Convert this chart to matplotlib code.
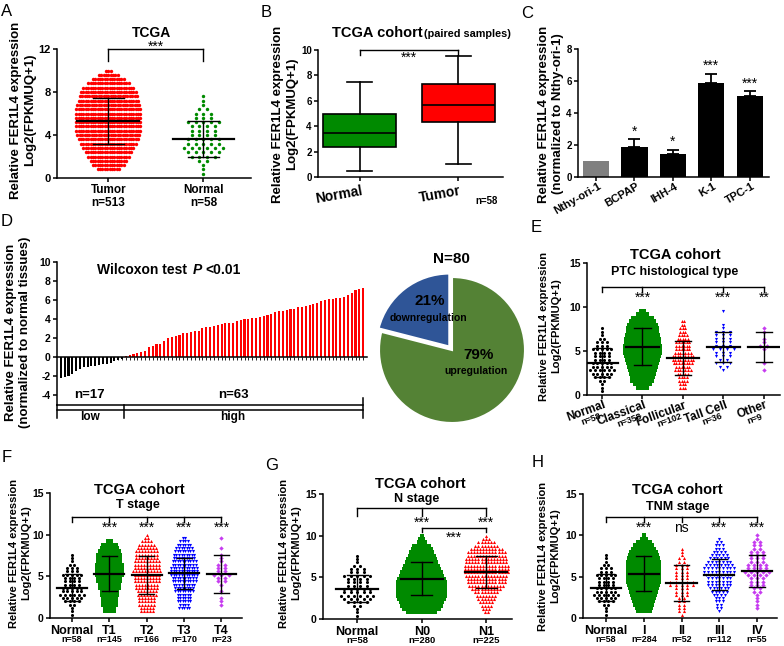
import matplotlib
matplotlib.use('Agg')
import matplotlib.pyplot as plt
import numpy as np

plt.rcParams['font.family'] = ['Liberation Sans', 'DejaVu Sans']
plt.rcParams['font.weight'] = 'bold'
plt.rcParams['axes.unicode_minus'] = False

# ---------------- data ----------------
# dot plots: number of points per row, rows at 0.4, 0.8, ... 10.0
ROW_STEP = 0.4
normal_counts = [1, 1, 1, 2, 4, 5, 6, 5, 5, 4, 4, 4, 5, 3, 3, 2, 1, 1, 1]
a_tumor_counts = [0, 10, 14, 16, 18, 20, 22, 24, 26, 27, 28, 28, 28, 28, 28, 28,
                  27, 26, 25, 24, 22, 18, 14, 9, 3]
classical_counts = [0, 6, 9, 12, 13, 14, 15, 16, 17, 18, 19, 20, 20, 20, 19, 19,
                    18, 17, 17, 16, 14, 11, 6, 3]
follicular_counts = [0, 3, 3, 4, 4, 5, 7, 6, 8, 9, 9, 7, 6, 6, 6, 5, 4, 3, 3, 2, 2]
tallcell_counts = [0, 0, 0, 0, 0, 0, 1, 2, 3, 2, 3, 3, 4, 3, 3, 3, 3, 3, 1, 1, 0, 0, 0, 1]
other_counts = [0, 0, 0, 0, 0, 0, 1, 0, 1, 0, 0, 0, 1, 2, 1, 1, 0, 1, 1]
t1_counts = [0, 4, 4, 5, 5, 5, 6, 6, 7, 7, 8, 8, 9, 9, 9, 9, 8, 8, 8, 7, 6, 5, 2]
t2_counts = [0, 5, 5, 6, 6, 6, 7, 7, 8, 8, 9, 9, 9, 10, 9, 9, 9, 8, 8, 8, 7, 6, 4, 2, 1]
t3_counts = [0, 0, 5, 4, 6, 6, 6, 8, 8, 9, 10, 10, 11, 11, 11, 10, 10, 9, 9, 8, 7, 6, 4, 2]
t4_counts = [0, 0, 0, 1, 1, 1, 0, 1, 0, 1, 2, 2, 3, 2, 2, 2, 1, 1, 1, 0, 1, 0, 0, 1]
n0_counts = [0, 10, 13, 14, 15, 16, 17, 17, 17, 17, 17, 16, 15, 14, 13, 12, 11, 10,
             9, 8, 7, 6, 3, 2, 1]
n1_counts = [0, 2, 3, 4, 5, 6, 7, 8, 10, 12, 13, 13, 14, 15, 15, 15, 14, 14, 13,
             13, 11, 8, 6, 3, 1]
stage1_counts = [0, 7, 8, 9, 10, 11, 12, 13, 14, 15, 16, 16, 16, 16, 16, 16, 16,
                 15, 14, 13, 11, 9, 7, 3, 1]
stage2_counts = [1, 2, 2, 2, 2, 2, 3, 3, 3, 5, 5, 3, 3, 3, 3, 3, 2, 2, 1, 1, 1]
stage3_counts = [0, 1, 2, 2, 3, 3, 4, 5, 6, 7, 7, 7, 8, 9, 9, 8, 7, 6, 5, 4, 3, 3, 2, 1]
stage4_counts = [0, 0, 1, 1, 1, 1, 1, 2, 2, 3, 3, 3, 4, 5, 4, 4, 3, 3, 3, 3, 2, 2, 2, 1, 1]

# mean and SD (low/high) per group
a_groups = ['Tumor\nn=513', 'Normal\nn=58']
a_means = [5.3, 3.65]
a_lo = [3.2, 2.0]
a_hi = [7.4, 5.3]

e_names = ['Normal', 'Classical', 'Follicular', 'Tall Cell', 'Other']
e_ns = ['n=58', 'n=358', 'n=102', 'n=36', 'n=9']
e_means = [3.65, 5.45, 4.2, 5.45, 5.5]
e_lo = [2.0, 3.4, 2.3, 3.75, 3.75]
e_hi = [5.3, 7.6, 6.1, 7.2, 7.2]
e_stars = ['', '***', '', '***', '**']

f_names = ['Normal', 'T1', 'T2', 'T3', 'T4']
f_ns = ['n=58', 'n=145', 'n=166', 'n=170', 'n=23']
f_means = [3.65, 5.3, 5.2, 5.35, 5.3]
f_lo = [2.0, 3.2, 2.9, 3.45, 3.0]
f_hi = [5.3, 7.4, 7.4, 7.2, 7.6]
f_stars = ['', '***', '***', '***', '***']

g_names = ['Normal', 'N0', 'N1']
g_ns = ['n=58', 'n=280', 'n=225']
g_means = [3.65, 4.85, 5.7]
g_lo = [2.0, 2.9, 3.75]
g_hi = [5.3, 6.8, 7.6]

h_names = ['Normal', 'I', 'II', 'III', 'IV']
h_ns = ['n=58', 'n=284', 'n=52', 'n=112', 'n=55']
h_means = [3.65, 5.35, 4.2, 5.25, 5.7]
h_lo = [2.0, 3.3, 2.0, 3.4, 3.7]
h_hi = [5.3, 7.5, 6.4, 7.1, 7.65]
h_stars = ['', '***', 'ns', '***', '***']

# B box plot (paired samples)
b_labels = ['Normal', 'Tumor']
b_whislo = [0.45, 1.0]
b_q1 = [2.35, 4.3]
b_med = [3.45, 5.7]
b_q3 = [5.0, 7.3]
b_whishi = [7.45, 9.5]

# C cell lines
c_lines = ['Nthy-ori-1', 'BCPAP', 'IHH-4', 'K-1', 'TPC-1']
c_values = [1.0, 1.85, 1.45, 5.85, 5.05]
c_err = [0.0, 0.5, 0.25, 0.6, 0.3]
c_stars = ['', '*', '*', '***', '***']

# D waterfall of 80 paired samples
d_down = [-2.2, -2.1, -2.0, -1.8, -1.5, -1.3, -1.1, -1.0, -0.95, -0.9, -0.85,
          -0.75, -0.7, -0.6, -0.45, -0.35, -0.2]
d_up = [0.15, 0.2, 0.3, 0.4, 0.5, 0.65, 1.1, 1.15, 1.35, 1.4, 1.7, 2.05, 2.1,
        2.2, 2.35, 2.5, 2.55, 2.65, 2.7, 2.75, 3.1, 3.15, 3.2, 3.3, 3.35, 3.5,
        3.55, 3.6, 3.6, 3.75, 3.85, 3.95, 4.05, 4.1, 4.15, 4.2, 4.3, 4.4, 4.5,
        4.7, 4.8, 4.85, 4.95, 5.05, 5.1, 5.25, 5.3, 5.35, 5.5, 5.6, 5.65, 5.9,
        6.0, 6.1, 6.15, 6.2, 6.25, 6.3, 6.55, 6.75, 7.1, 7.2, 7.3]
pie_values = [21, 79]

# colours
RED = '#FF0000'
GREEN = '#008A00'
BLUE = '#0000FF'
PURPLE = '#C63CF0'
PIE_BLUE = '#2F5597'
PIE_GREEN = '#548235'

W, H = 784, 646
fig = plt.figure(figsize=(W / 100, H / 100), dpi=100)


def add_ax(x0, x1, ytop, ybot):
    return fig.add_axes([x0 / W, 1 - ybot / H, (x1 - x0) / W, (ybot - ytop) / H])


def ftext(x, y, s, **kw):
    kw.setdefault('ha', 'center')
    kw.setdefault('va', 'center')
    fig.text(x / W, 1 - y / H, s, **kw)


def style(ax, fs=7.5):
    for s in ['top', 'right']:
        ax.spines[s].set_visible(False)
    for s in ['left', 'bottom']:
        ax.spines[s].set_linewidth(1.1)
    ax.tick_params(direction='out', length=3, width=1.1, labelsize=fs, pad=1.5)


def swarm(ax, xc, counts, width, color, marker, size):
    dx = width / max(counts)
    xs, ys = [], []
    for i, n in enumerate(counts):
        y = ROW_STEP * (i + 1)
        for k in range(n):
            xs.append(xc + (k - (n - 1) / 2) * dx)
            ys.append(y)
    ax.scatter(xs, ys, s=size, c=color, marker=marker, linewidths=0, zorder=2,
               clip_on=False)


def mean_sd(ax, xc, m, lo, hi, mw):
    ax.plot([xc - mw / 2, xc + mw / 2], [m, m], color='k', lw=1.6, zorder=3)
    ax.plot([xc, xc], [lo, hi], color='k', lw=1, zorder=3)
    for v in (lo, hi):
        ax.plot([xc - mw / 4, xc + mw / 4], [v, v], color='k', lw=1, zorder=3)


def bracket(ax, x0, x1, y, drops, depth):
    ax.plot([x0, x1], [y, y], color='k', lw=1, clip_on=False)
    for x in drops:
        ax.plot([x, x], [y, y - depth], color='k', lw=1, clip_on=False)


def dot_panel(box, xlim, counts_list, widths, colors, markers, means, lo, hi, mw, size):
    ax = add_ax(*box)
    style(ax)
    ax.set_xlim(xlim)
    ax.set_ylim(0, 15)
    ax.set_yticks([0, 5, 10, 15])
    for i, counts in enumerate(counts_list):
        swarm(ax, i, counts, widths[i], colors[i], markers[i], size)
        mean_sd(ax, i, means[i], lo[i], hi[i], mw)
    ax.set_xticks(range(len(counts_list)))
    return ax


def name_labels(ax, names, ns, fs=9, nfs=6.5, noff=-12.5):
    ax.set_xticklabels(names, fontsize=fs)
    ax.tick_params(axis='x', pad=2)
    for i, n in enumerate(ns):
        ax.annotate(n, xy=(i, 0), xycoords=ax.get_xaxis_transform(),
                    xytext=(0, noff), textcoords='offset points',
                    ha='center', va='top', fontsize=nfs)


# ---------------- A ----------------
ax = add_ax(57, 251, 49, 178)
style(ax, 8)
ax.set_xlim(-0.54, 1.5)
ax.set_ylim(0, 12)
ax.set_yticks([0, 4, 8, 12])
swarm(ax, 0, a_tumor_counts, 0.70, RED, 'o', 6)
swarm(ax, 1, normal_counts, 0.50, GREEN, 'o', 6)
for i in range(2):
    mean_sd(ax, i, a_means[i], a_lo[i], a_hi[i], 0.65)
ax.set_xticks([0, 1])
ax.set_xticklabels(a_groups, fontsize=8.5, linespacing=1.1)
bracket(ax, 0, 1, 12, [0, 1], 1.1)
ax.text(0.5, 12.25, '***', ha='center', va='center', fontsize=10, fontweight='normal')
ftext(152, 33, 'TCGA', fontsize=10)
ftext(23, 110, 'Relative FER1L4 expression\nLog2(FPKMUQ+1)', rotation=90, fontsize=9.5)

# ---------------- B ----------------
ax = add_ax(318, 503, 50, 177)
style(ax, 7)
ax.set_xlim(-0.42, 1.45)
ax.set_ylim(0, 10)
ax.set_yticks(range(0, 11, 2))
stats = [dict(med=b_med[i], q1=b_q1[i], q3=b_q3[i], whislo=b_whislo[i],
              whishi=b_whishi[i], label=b_labels[i]) for i in range(2)]
bp = ax.bxp(stats, positions=[0, 1], widths=0.74, capwidths=0.25, patch_artist=True,
            showfliers=False, boxprops=dict(lw=1.2), medianprops=dict(color='k', lw=1.2),
            whiskerprops=dict(lw=1.2), capprops=dict(lw=1.2))
for patch, col in zip(bp['boxes'], [GREEN, RED]):
    patch.set_facecolor(col)
ax.set_xticks([0, 1])
ax.set_xticklabels([])
for i, lab in enumerate(b_labels):
    ax.annotate(lab, xy=(i, 0), xycoords=ax.get_xaxis_transform(), xytext=(1, -5),
                textcoords='offset points', ha='right', va='top', rotation=10,
                rotation_mode='anchor', fontsize=10)
bracket(ax, 0, 1, 10, [0, 1], 0.4)
ax.text(0.5, 9.95, '***', ha='center', va='top', fontsize=10, fontweight='normal')
ftext(332, 33, 'TCGA cohort', ha='left', fontsize=10.5)
ftext(424, 34, '(paired samples)', ha='left', fontsize=7.8)
ftext(487, 201, 'n=58', fontsize=7)
ftext(285, 114, 'Relative FER1L4 expression\nLog2(FPKMUQ+1)', rotation=90, fontsize=9.5)

# ---------------- C ----------------
ax = add_ax(578, 769, 49, 177)
style(ax, 7)
ax.set_xlim(-0.47, 4.5)
ax.set_ylim(0, 8)
ax.set_yticks(range(0, 9, 2))
xc = np.arange(len(c_lines))
ax.bar(xc, c_values, width=0.68, color=['#808080'] + ['k'] * 4, edgecolor='none')
ax.errorbar(xc[1:], c_values[1:], yerr=[[0] * 4, c_err[1:]], fmt='none', ecolor='k',
            elinewidth=1.3, capsize=4.5, capthick=1.3)
for i, s in enumerate(c_stars):
    if s:
        ax.text(i, c_values[i] + c_err[i] + 0.05, s, ha='center', va='bottom',
                fontsize=10, fontweight='normal')
ax.set_xticks(xc)
ax.set_xticklabels([])
for i, lab in enumerate(c_lines):
    ax.annotate(lab, xy=(i, 0), xycoords=ax.get_xaxis_transform(), xytext=(1, -3),
                textcoords='offset points', ha='right', va='top', rotation=30,
                rotation_mode='anchor', fontsize=8)
ftext(551, 114, 'Relative FER1L4 expression\n(normalized to Nthy-ori-1)', rotation=90,
      fontsize=9.5)

# ---------------- D ----------------
ax = add_ax(57, 367, 262, 404.5)
style(ax, 7.5)
ax.set_xlim(-1, 80)
ax.set_ylim(-5, 10)
ax.set_yticks(range(-4, 11, 2))
d_vals = d_down + d_up
d_cols = ['k'] * len(d_down) + [RED] * len(d_up)
ax.bar(range(len(d_vals)), d_vals, width=0.55, color=d_cols, edgecolor='none')
ax.spines['bottom'].set_position(('data', 0))
ax.set_xticks(range(len(d_vals)))
ax.set_xticklabels([])
ax.tick_params(axis='x', length=2, width=0.6)
split = len(d_down) - 0.5
right = len(d_vals) - 1.1
ax.plot([-1, right], [-5, -5], color='k', lw=1.1, clip_on=False)
ax.plot([-1, right], [-5.63, -5.63], color='k', lw=1.1, clip_on=False)
for x, top in [(-1, -5), (split, -5), (right, -4.3)]:
    ax.plot([x, x], [top, -6.4], color='k', lw=1.1, clip_on=False)
ax.text(7.6, -4.0, 'n=' + str(len(d_down)), ha='center', va='center', fontsize=9.5)
ax.text(45, -4.0, 'n=' + str(len(d_up)), ha='center', va='center', fontsize=9.5)
ax.text(7.6, -6.35, 'low', ha='center', va='center', fontsize=8.5)
ax.text(45, -6.35, 'high', ha='center', va='center', fontsize=8.5)
ftext(97, 270, 'Wilcoxon test', ha='left', fontsize=10)
ftext(193, 270, 'P', ha='left', fontsize=10, style='italic')
ftext(205, 270, '<0.01', ha='left', fontsize=10)
ftext(18, 332, 'Relative FER1L4 expression\n(normalized to normal tissues)', rotation=90,
      fontsize=9.5)

# pie
pax = fig.add_axes([372 / W, 1 - 430 / H, 160 / W, 160 / H])
pax.pie(pie_values, colors=[PIE_BLUE, PIE_GREEN], startangle=90, counterclock=True,
        explode=[0.06, 0], wedgeprops=dict(edgecolor='white', lw=1.5))
pax.set_xlim(-1.096, 1.096)
pax.set_ylim(-1.096, 1.096)
pax.axis('off')
ftext(451, 259, 'N=80', fontsize=11)
ftext(430, 301, '21%', fontsize=11)
ftext(428, 318, 'downregulation', fontsize=7.5)
ftext(479, 355, '79%', fontsize=11)
ftext(476, 371, 'upregulation', fontsize=7.5)

# ---------------- E ----------------
ax = dot_panel((587, 780, 263, 395), (-0.37, 4.4),
               [normal_counts, classical_counts, follicular_counts, tallcell_counts,
                other_counts],
               [0.7, 0.9, 0.57, 0.7, 0.33], ['k', GREEN, RED, BLUE, PURPLE],
               ['o', 's', '^', 'v', 'D'], e_means, e_lo, e_hi, 0.8, 5)
ax.set_xticklabels([])
for i in range(5):
    ax.annotate(e_names[i], xy=(i, 0), xycoords=ax.get_xaxis_transform(), xytext=(1, -3),
                textcoords='offset points', ha='right', va='top', rotation=20,
                rotation_mode='anchor', fontsize=8.5)
    ax.annotate(e_ns[i], xy=(i, 0), xycoords=ax.get_xaxis_transform(), xytext=(-2, -12),
                textcoords='offset points', ha='right', va='top', rotation=20,
                rotation_mode='anchor', fontsize=6.5)
bracket(ax, 0, 4, 12.3, [0, 1, 3, 4], 0.6)
for i, s in enumerate(e_stars):
    if s:
        ax.text(i, 11.0, s, ha='center', va='center', fontsize=10, fontweight='normal')
ftext(675, 255, 'TCGA cohort', fontsize=10.5)
ftext(675, 272, 'PTC histological type', fontsize=9)
ftext(550, 326, 'Relative FER1L4 expression\nLog2(FPKMUQ+1)', rotation=90, fontsize=8)

# ---------------- F ----------------
ax = dot_panel((50, 242, 493, 618), (-0.59, 4.55),
               [normal_counts, t1_counts, t2_counts, t3_counts, t4_counts],
               [0.75, 0.75, 0.8, 0.75, 0.62], ['k', GREEN, RED, BLUE, PURPLE],
               ['o', 's', '^', 'v', 'D'], f_means, f_lo, f_hi, 0.8, 5)
name_labels(ax, f_names, f_ns)
bracket(ax, 0, 4, 12.1, range(5), 0.6)
for i, s in enumerate(f_stars):
    if s:
        ax.text(i, 10.8, s, ha='center', va='center', fontsize=10, fontweight='normal')
ftext(139, 490, 'TCGA cohort', fontsize=10.5)
ftext(138, 505, 'T stage', fontsize=9)
ftext(20, 553, 'Relative FER1L4 expression\nLog2(FPKMUQ+1)', rotation=90, fontsize=8)

# ---------------- G ----------------
ax = dot_panel((323, 512, 494, 619), (-0.53, 2.4),
               [normal_counts, n0_counts, n1_counts],
               [0.6, 0.78, 0.72], ['k', GREEN, RED], ['o', 's', '^'],
               g_means, g_lo, g_hi, 0.65, 5)
name_labels(ax, g_names, g_ns, fs=9, nfs=6.8, noff=-12.5)
bracket(ax, 0, 2, 13.3, range(3), 0.9)
ax.text(1, 11.6, '***', ha='center', va='center', fontsize=10, fontweight='normal')
ax.text(2, 11.6, '***', ha='center', va='center', fontsize=10, fontweight='normal')
bracket(ax, 1, 2, 10.9, [1, 2], 0.4)
ax.text(1.5, 9.8, '***', ha='center', va='center', fontsize=10, fontweight='normal')
ftext(420, 484, 'TCGA cohort', fontsize=10.5)
ftext(417, 499, 'N stage', fontsize=9)
ftext(290, 553, 'Relative FER1L4 expression\nLog2(FPKMUQ+1)', rotation=90, fontsize=8)

# ---------------- H ----------------
ax = dot_panel((583, 777, 494, 618), (-0.61, 4.53),
               [normal_counts, stage1_counts, stage2_counts, stage3_counts, stage4_counts],
               [0.75, 0.88, 0.75, 0.88, 0.8], ['k', GREEN, RED, BLUE, PURPLE],
               ['o', 's', '^', 'v', 'D'], h_means, h_lo, h_hi, 0.8, 5)
name_labels(ax, h_names, h_ns)
bracket(ax, 0, 4, 12.2, range(5), 0.6)
for i, s in enumerate(h_stars):
    if s:
        ax.text(i, 10.9, s, ha='center', va='center', fontsize=10, fontweight='normal')
ftext(677, 490, 'TCGA cohort', fontsize=10.5)
ftext(678, 507, 'TNM stage', fontsize=9)
ftext(549, 556, 'Relative FER1L4 expression\nLog2(FPKMUQ+1)', rotation=90, fontsize=8)

# panel letters
for x, y, s in [(1, 4, 'A'), (261, 5, 'B'), (521, 6, 'C'), (1, 214, 'D'),
                (531, 220, 'E'), (2, 450, 'F'), (265, 458, 'G'), (532, 455, 'H')]:
    ftext(x, y, s, ha='left', va='top', fontsize=12, fontweight='normal')

fig.savefig('out.png', dpi=100)
